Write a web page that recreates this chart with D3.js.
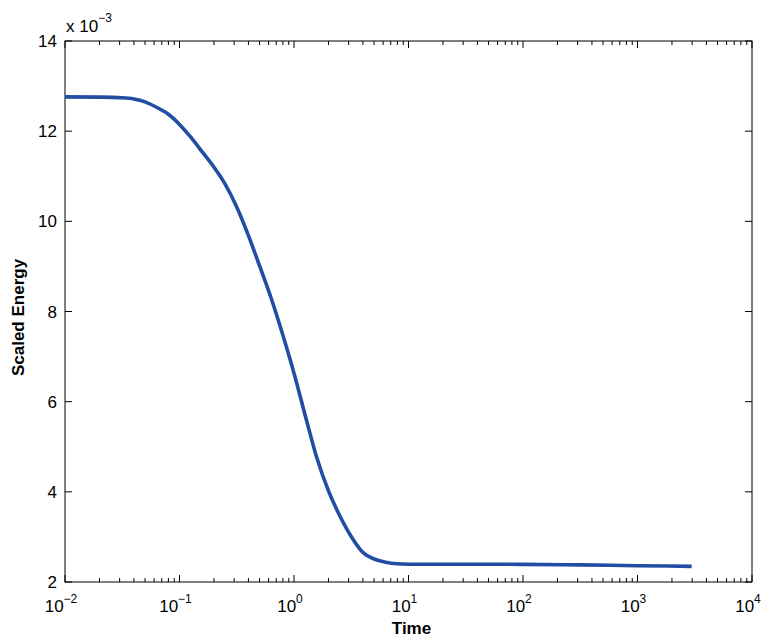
<!DOCTYPE html>
<html>
<head>
<meta charset="utf-8">
<script src="https://cdn.jsdelivr.net/npm/d3@7"></script>
<style>
  html, body { margin: 0; padding: 0; background: #fff; }
  svg { display: block; font-family: "Liberation Sans", Arial, Helvetica, sans-serif; }
</style>
</head>
<body>
<svg id="chart" width="763" height="637"></svg>
<script>
// Simulation output: time (log-spaced samples) and scaled energy
const time = [0.01, 0.02, 0.0316, 0.0398, 0.0501, 0.0631, 0.0794, 0.1, 0.126, 0.158,
              0.2, 0.251, 0.316, 0.398, 0.501, 0.631, 0.794, 1, 1.26, 1.58,
              2.0, 2.51, 3.16, 3.98, 5.01, 6.31, 7.94, 10, 31.6, 100,
              316, 1000, 2970];
const energy = [12.76e-3, 12.755e-3, 12.74e-3, 12.715e-3, 12.65e-3, 12.53e-3, 12.38e-3, 12.15e-3, 11.86e-3, 11.54e-3,
                11.20e-3, 10.82e-3, 10.32e-3, 9.70e-3, 9.01e-3, 8.30e-3, 7.50e-3, 6.63e-3, 5.67e-3, 4.76e-3,
                4.02e-3, 3.47e-3, 3.01e-3, 2.66e-3, 2.51e-3, 2.44e-3, 2.405e-3, 2.395e-3, 2.395e-3, 2.392e-3,
                2.38e-3, 2.362e-3, 2.347e-3];

const xDomain = [1e-2, 1e4];
const yDomain = [2e-3, 14e-3];
const xTickExponents = [-2, -1, 0, 1, 2, 3, 4];
const yTickValues = [2e-3, 4e-3, 6e-3, 8e-3, 10e-3, 12e-3, 14e-3];
const yScaleExponent = -3;

const xLabel = "Time";
const yLabel = "Scaled Energy";

const svg = d3.select("#chart");
const margin = { left: 65, right: 11, top: 41, bottom: 55 };
const W = 763, H = 637;
const x0 = margin.left, x1 = W - margin.right;
const y0 = margin.top, y1 = H - margin.bottom;

const x = d3.scaleLog().domain(xDomain).range([x0, x1]);
const y = d3.scaleLinear().domain(yDomain).range([y1, y0]);

// Minor log ticks (2..9 within each decade)
const minorX = [];
for (let e = -2; e < 4; e++) {
  for (let m = 2; m <= 9; m++) minorX.push(m * Math.pow(10, e));
}
const majorX = xTickExponents.map(e => Math.pow(10, e));

const g = svg.append("g");

// Frame
g.append("rect")
  .attr("x", x0).attr("y", y0)
  .attr("width", x1 - x0).attr("height", y1 - y0)
  .attr("fill", "none").attr("stroke", "#000").attr("stroke-width", 1);

const tickStyle = sel => sel.attr("stroke", "#000").attr("stroke-width", 1);
const majorLen = 7, minorLen = 4;

// Bottom & top x ticks (inward)
[[y1, -1], [y0, 1]].forEach(([yy, dir]) => {
  g.selectAll(null).data(majorX).enter().append("line")
    .attr("x1", d => x(d)).attr("x2", d => x(d))
    .attr("y1", yy).attr("y2", yy + dir * majorLen).call(tickStyle);
  g.selectAll(null).data(minorX).enter().append("line")
    .attr("x1", d => x(d)).attr("x2", d => x(d))
    .attr("y1", yy).attr("y2", yy + dir * minorLen).call(tickStyle);
});

// Left & right y ticks (inward)
[[x0, 1], [x1, -1]].forEach(([xx, dir]) => {
  g.selectAll(null).data(yTickValues).enter().append("line")
    .attr("y1", d => y(d)).attr("y2", d => y(d))
    .attr("x1", xx).attr("x2", xx + dir * majorLen).call(tickStyle);
});

// Y tick labels (scaled by 10^3)
g.selectAll(null).data(yTickValues).enter().append("text")
  .attr("x", x0 - 8).attr("y", d => y(d))
  .attr("dy", "0.36em")
  .attr("text-anchor", "end")
  .attr("font-size", 17)
  .attr("fill", "#000")
  .text(d => d3.format("d")(Math.round(d / Math.pow(10, yScaleExponent))));

// X tick labels as powers of ten
xTickExponents.forEach(e => {
  const t = g.append("text")
    .attr("x", x(Math.pow(10, e)) - 4)
    .attr("y", y1 + 30)
    .attr("text-anchor", "middle")
    .attr("font-size", 17)
    .attr("fill", "#000");
  t.append("tspan").text("10");
  t.append("tspan").attr("dy", -9).attr("font-size", 12).text(e < 0 ? "\u2212" + (-e) : String(e));
});

// Exponent note above the y axis
const note = g.append("text")
  .attr("x", x0 + 1).attr("y", y0 - 9)
  .attr("font-size", 17).attr("fill", "#000");
note.append("tspan").text("x 10");
note.append("tspan").attr("dy", -10).attr("font-size", 12).text("\u2212" + (-yScaleExponent));

// Axis titles
g.append("text")
  .attr("x", (x0 + x1) / 2 + 3).attr("y", H - 3)
  .attr("text-anchor", "middle")
  .attr("font-size", 17).attr("font-weight", "bold")
  .attr("fill", "#000")
  .text(xLabel);

g.append("text")
  .attr("transform", `translate(24,${(y0 + y1) / 2 + 6}) rotate(-90)`)
  .attr("text-anchor", "middle")
  .attr("font-size", 17).attr("font-weight", "bold")
  .attr("fill", "#000")
  .text(yLabel);

// Energy curve
const data = time.map((t, i) => ({ t, e: energy[i] }));
const line = d3.line()
  .x(d => x(d.t))
  .y(d => y(d.e))
  .curve(d3.curveMonotoneX);

g.append("path")
  .datum(data)
  .attr("d", line)
  .attr("fill", "none")
  .attr("stroke", "#214ea2")
  .attr("stroke-width", 3.6)
  .attr("stroke-linejoin", "round");
</script>
</body>
</html>
